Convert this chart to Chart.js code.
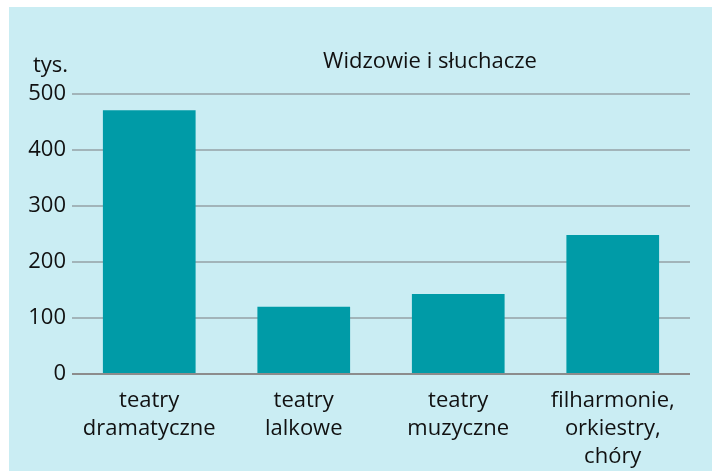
<!DOCTYPE html>
<html>
<head>
<meta charset="utf-8">
<script src="https://cdn.jsdelivr.net/npm/chart.js@4/dist/chart.umd.min.js"></script>
<style>
  html, body { margin: 0; padding: 0; background: #ffffff; }
  .box {
    position: absolute;
    left: 9px; top: 7px;
    width: 703px; height: 464px;
    background: #caedf3;
  }
</style>
</head>
<body>
<div class="box"><canvas id="chart"></canvas></div>
<script>
  // Chart data
  const categories = [
    ['teatry', 'dramatyczne'],
    ['teatry', 'lalkowe'],
    ['teatry', 'muzyczne'],
    ['filharmonie,', 'orkiestry,', 'chóry']
  ];
  const viewers = [471, 120, 143, 248];
  const yTicks = [0, 100, 200, 300, 400, 500];

  const chartTitle = 'Widzowie i słuchacze';
  const unitLabel = 'tys.';

  const fontFamily = '"Open Sans", "Noto Sans", sans-serif';

  // Draws the unit label and the title above the plot
  const headerPlugin = {
    id: 'header',
    afterDraw(chart) {
      const ctx = chart.ctx;
      const area = chart.chartArea;
      ctx.save();
      ctx.fillStyle = '#111111';
      ctx.font = '22px ' + fontFamily;
      ctx.textBaseline = 'alphabetic';
      ctx.textAlign = 'left';
      ctx.fillText(unitLabel, 24, area.top - 22);
      ctx.textAlign = 'center';
      ctx.fillText(chartTitle, 421, area.top - 26);
      ctx.restore();
    }
  };

  const ctx = document.getElementById('chart').getContext('2d');
  new Chart(ctx, {
    type: 'bar',
    data: {
      labels: categories,
      datasets: [{
        data: viewers,
        backgroundColor: '#009ba7',
        borderWidth: 0,
        barPercentage: 0.6,
        categoryPercentage: 1
      }]
    },
    options: {
      responsive: true,
      maintainAspectRatio: false,
      animation: false,
      layout: {
        padding: { left: 0, right: 22, top: 87, bottom: 0 }
      },
      plugins: {
        legend: { display: false },
        tooltip: { enabled: false }
      },
      scales: {
        x: {
          grid: { display: false },
          border: { display: false },
          afterFit: function(axis) { axis.height = 97; },
          ticks: {
            color: '#111111',
            font: { family: fontFamily, size: 22, lineHeight: 1.27 },
            padding: 5,
            maxRotation: 0
          }
        },
        y: {
          min: 0,
          max: 500,
          afterBuildTicks: function(axis) {
            axis.ticks = yTicks.map(v => ({ value: v }));
          },
          afterFit: function(axis) { axis.width = 63; },
          border: { display: false },
          grid: {
            drawTicks: false,
            lineWidth: 2,
            color: function(c) {
              return c.tick && c.tick.value === 0 ? '#8c8c8c' : '#a2b4b9';
            }
          },
          ticks: {
            color: '#111111',
            font: { family: fontFamily, size: 22 },
            padding: 6
          }
        }
      }
    },
    plugins: [headerPlugin]
  });
</script>
</body>
</html>
